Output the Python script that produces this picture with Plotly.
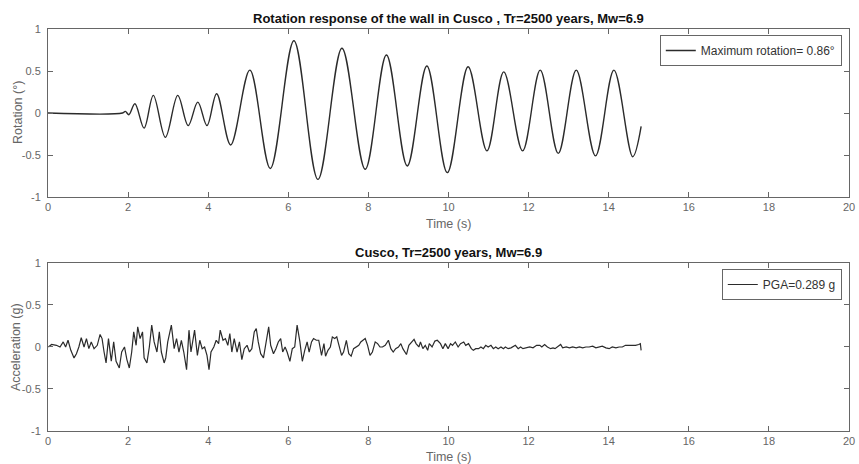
import plotly.graph_objects as go

# ---------------- data ----------------
rot_t = [0.0, 1.86, 1.93, 2.02, 2.17, 2.40, 2.63, 2.93, 3.24, 3.50, 3.74, 3.97, 4.21, 4.56,
         5.04, 5.55, 6.14, 6.74, 7.34, 7.92, 8.45, 8.97, 9.46, 9.97, 10.49, 10.96, 11.38,
         11.85, 12.29, 12.74, 13.19, 13.67, 14.13, 14.60, 14.81]
rot_v = [0.0, 0.0, 0.02, -0.02, 0.11, -0.18, 0.21, -0.29, 0.21, -0.15, 0.13, -0.15, 0.23, -0.38,
         0.51, -0.66, 0.86, -0.79, 0.77, -0.67, 0.69, -0.63, 0.56, -0.71, 0.55, -0.45, 0.49,
         -0.45, 0.51, -0.48, 0.51, -0.51, 0.51, -0.52, -0.16]

acc_t = [0.01, 0.09, 0.21, 0.30, 0.38, 0.44, 0.50, 0.57, 0.65, 0.71, 0.77, 0.83, 0.90, 0.96,
         1.02, 1.08, 1.15, 1.23, 1.30, 1.35, 1.40, 1.45, 1.51, 1.58, 1.64, 1.70, 1.78, 1.84,
         1.91, 1.97, 2.03, 2.09, 2.14, 2.20, 2.24, 2.30, 2.36, 2.40, 2.47, 2.53, 2.59, 2.65,
         2.72, 2.78, 2.83, 2.90, 2.94, 2.99, 3.08, 3.15, 3.21, 3.27, 3.33, 3.39, 3.46, 3.52,
         3.57, 3.66, 3.73, 3.79, 3.85, 3.91, 3.97, 4.02, 4.07, 4.14, 4.20, 4.26, 4.30, 4.37,
         4.43, 4.49, 4.54, 4.59, 4.65, 4.72, 4.78, 4.84, 4.90, 4.97, 5.03, 5.09, 5.15, 5.20,
         5.25, 5.31, 5.38, 5.44, 5.51, 5.56, 5.63, 5.69, 5.75, 5.81, 5.86, 5.92, 5.97, 6.04,
         6.10, 6.16, 6.22, 6.29, 6.35, 6.41, 6.47, 6.52, 6.58, 6.63, 6.70, 6.76, 6.83, 6.89,
         6.93, 6.99, 7.05, 7.10, 7.16, 7.21, 7.26, 7.33, 7.38, 7.45, 7.51, 7.57, 7.63, 7.69,
         7.76, 7.81, 7.87, 7.92, 7.98, 8.04, 8.10, 8.17, 8.23, 8.29, 8.35, 8.42, 8.50, 8.56,
         8.62, 8.68, 8.75, 8.81, 8.86, 8.93, 8.95, 9.01, 9.08, 9.14, 9.19, 9.26, 9.30, 9.36,
         9.42, 9.48, 9.52, 9.59, 9.66, 9.72, 9.80, 9.86, 9.92, 9.99, 10.05, 10.10, 10.17, 10.24,
         10.30, 10.38, 10.43, 10.50, 10.57, 10.62, 10.68, 10.75, 10.81, 10.87, 10.93, 10.99,
         11.06, 11.12, 11.18, 11.24, 11.31, 11.37, 11.42, 11.49, 11.56, 11.61, 11.67, 11.74,
         11.80, 11.86, 11.95, 12.03, 12.11, 12.20, 12.28, 12.33, 12.40, 12.47, 12.55, 12.61,
         12.66, 12.73, 12.80, 12.85, 12.94, 13.02, 13.10, 13.19, 13.27, 13.35, 13.43, 13.51,
         13.60, 13.68, 13.76, 13.84, 13.93, 14.01, 14.09, 14.18, 14.26, 14.34, 14.42, 14.51,
         14.59, 14.67, 14.75, 14.79, 14.81]
acc_v = [0.0, 0.03, 0.02, 0.0, 0.06, 0.0, 0.08, -0.04, -0.13, -0.08, 0.0, 0.11, 0.0, 0.10,
         -0.02, 0.06, -0.02, 0.02, 0.15, 0.10, -0.06, -0.19, 0.10, -0.17, 0.06, -0.17, -0.25, -0.06,
         0.0, -0.15, -0.25, -0.06, 0.18, 0.02, 0.24, 0.10, 0.18, -0.13, -0.19, 0.0, 0.26, 0.06,
         -0.06, 0.18, -0.06, -0.19, -0.13, 0.06, 0.26, -0.02, 0.10, -0.06, 0.08, -0.06, -0.27, 0.20,
         -0.06, 0.20, -0.10, 0.08, -0.02, 0.0, -0.10, -0.27, -0.06, 0.0, 0.08, 0.04, 0.20, 0.08,
         0.10, 0.02, 0.16, -0.06, 0.10, -0.06, 0.06, -0.15, -0.02, 0.02, -0.06, -0.02, 0.18, 0.22,
         0.06, -0.08, -0.13, 0.06, 0.24, 0.02, -0.08, -0.02, 0.06, 0.10, -0.06, 0.0, -0.06, -0.17,
         -0.02, 0.0, 0.26, 0.06, -0.17, -0.04, 0.06, -0.06, 0.06, 0.10, 0.08, 0.08, -0.10, 0.04,
         -0.11, -0.04, 0.0, 0.12, 0.10, 0.12, 0.02, -0.10, -0.06, 0.08, -0.08, -0.11, -0.02, 0.0,
         0.02, 0.06, 0.08, 0.10, 0.02, -0.10, -0.06, 0.06, 0.04, 0.0, 0.0, 0.02, 0.08, -0.02,
         -0.06, -0.02, 0.0, 0.04, -0.02, -0.08, -0.09, 0.02, 0.06, 0.09, 0.04, 0.0, 0.06, -0.02,
         0.02, -0.04, 0.04, 0.0, 0.07, 0.08, 0.04, -0.02, 0.04, -0.02, 0.04, 0.02, 0.06, 0.0,
         0.04, 0.06, 0.02, 0.04, -0.02, -0.04, -0.02, -0.02, 0.0, -0.02, 0.02, 0.0,
         0.02, -0.02, 0.0, -0.02, 0.0, -0.02, 0.0, -0.02, -0.01, 0.0, 0.02, -0.02,
         0.0, -0.02, -0.01, 0.0, -0.01, 0.02, 0.02, 0.0, 0.03, 0.0, -0.02, -0.01,
         -0.02, 0.0, 0.03, -0.01, 0.0, -0.01, 0.0, -0.01, 0.0, -0.01, 0.0, 0.0,
         0.01, -0.01, 0.0, 0.01, -0.01, -0.02, 0.0, -0.01, 0.0, 0.0, 0.02, 0.02,
         0.02, 0.02, 0.03, 0.04, -0.04]

x_ticks = [0, 2, 4, 6, 8, 10, 12, 14, 16, 18, 20]
y_ticks = [-1, -0.5, 0, 0.5, 1]
y_tick_text = ["-1", "-0.5", "0", "0.5", "1"]

title_top = "Rotation response of the wall in Cusco , Tr=2500 years, Mw=6.9"
title_bot = "Cusco, Tr=2500 years, Mw=6.9"
legend_top = "Maximum rotation= 0.86°"
legend_bot = "PGA=0.289 g"

# ---------------- figure ----------------
FONT = "Liberation Sans, Arial, Helvetica, sans-serif"
AX = "#666666"
LINE = "#2b2b2b"

fig = go.Figure()
fig.add_trace(go.Scatter(x=rot_t, y=rot_v, mode="lines", name=legend_top,
                         line=dict(color=LINE, width=1.4, shape="spline", smoothing=1.0),
                         xaxis="x", yaxis="y", legend="legend"))
fig.add_trace(go.Scatter(x=acc_t, y=acc_v, mode="lines", name=legend_bot,
                         line=dict(color=LINE, width=1.2),
                         xaxis="x2", yaxis="y2", legend="legend2"))

axis_common = dict(showline=True, linecolor=AX, linewidth=1, mirror="allticks",
                   ticks="inside", ticklen=5, tickcolor=AX, tickwidth=1,
                   showgrid=False, zeroline=False, ticklabeloverflow="allow",
                   tickfont=dict(family=FONT, size=11, color=AX))

top_dom = [0.582, 1.0]
bot_dom = [0.0, 0.418]

fig.update_layout(
    width=859, height=464,
    margin=dict(l=48, r=4, t=29, b=33),
    paper_bgcolor="white", plot_bgcolor="white",
    font=dict(family=FONT, color=AX),
    xaxis=dict(domain=[0, 1], range=[0, 20], tickvals=x_ticks, anchor="y", **axis_common),
    yaxis=dict(domain=top_dom, range=[-1, 1], tickvals=y_ticks, ticktext=y_tick_text,
               anchor="x", ticklabelstandoff=4, **axis_common),
    xaxis2=dict(domain=[0, 1], range=[0, 20], tickvals=x_ticks, anchor="y2", **axis_common),
    yaxis2=dict(domain=bot_dom, range=[-1, 1], tickvals=y_ticks, ticktext=y_tick_text,
                anchor="x2", ticklabelstandoff=4, **axis_common),
    legend=dict(x=0.991, y=0.985, xanchor="right", yanchor="top",
                bordercolor=AX, borderwidth=1, bgcolor="white",
                font=dict(family=FONT, size=12, color="#333"),
                itemwidth=30, tracegroupgap=0),
    legend2=dict(x=0.991, y=0.403, xanchor="right", yanchor="top",
                 bordercolor=AX, borderwidth=1, bgcolor="white",
                 font=dict(family=FONT, size=12, color="#333"),
                 itemwidth=30, tracegroupgap=0),
    showlegend=True,
)

annos = [
    dict(text="<b>" + title_top + "</b>", x=0.5, y=1.0, yshift=11, yanchor="middle",
         font=dict(size=13, color="#111")),
    dict(text="<b>" + title_bot + "</b>", x=0.5, y=0.418, yshift=10, yanchor="middle",
         font=dict(size=13, color="#111")),
    dict(text="Time (s)", x=0.5, y=0.582, yshift=-27, yanchor="middle",
         font=dict(size=12.5, color=AX)),
    dict(text="Time (s)", x=0.5, y=0.0, yshift=-26, yanchor="middle",
         font=dict(size=12.5, color=AX)),
    dict(text="Rotation (°)", x=0, xshift=-30, y=0.791, textangle=-90,
         xanchor="center", yanchor="middle", font=dict(size=12.5, color=AX)),
    dict(text="Acceleration (g)", x=0, xshift=-32, y=0.209, textangle=-90,
         xanchor="center", yanchor="middle", font=dict(size=12.5, color=AX)),
]
for a in annos:
    a.update(xref="paper", yref="paper", showarrow=False)
    a["font"]["family"] = FONT
fig.update_layout(annotations=annos)

fig.write_html("out.html",
               config={"displayModeBar": False},
               post_script="document.body.style.margin='0';document.body.style.overflow='hidden';")
